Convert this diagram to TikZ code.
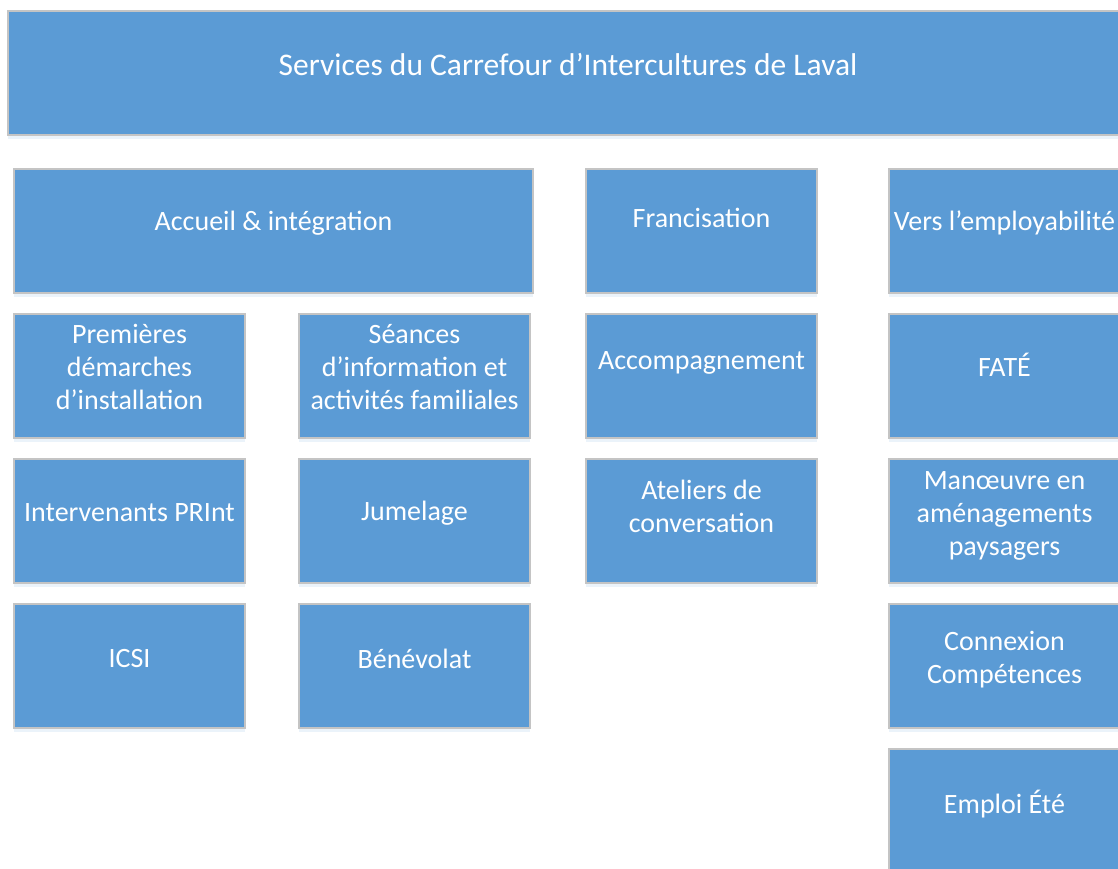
\documentclass[tikz,border=0pt]{standalone}
\usepackage{fontspec}
\setmainfont{Carlito}
\usetikzlibrary{positioning, shadows}

\definecolor{svcblue}{HTML}{5B9BD5}
\definecolor{svcedge}{HTML}{C4C4C4}

\begin{document}
\begin{tikzpicture}[
    x=1pt, y=1pt,
    box/.style={
      draw=svcedge, line width=1.2pt, fill=svcblue, outer sep=0pt,
      minimum width=231pt, minimum height=124pt,
      drop shadow={shadow xshift=0pt, shadow yshift=-4pt, opacity=0.12, fill=svcblue}
    },
    txt/.style={
      align=center, text=white, font=\fontsize{28}{33}\selectfont, yshift=9pt
    },
  ]
    \useasboundingbox (0,0) rectangle (1118,869);

    % Title
    \node [box, minimum width=1120pt, label={[txt, font=\fontsize{31.5}{36}\selectfont, yshift=-1pt]center:Services du Carrefour d’Intercultures de Laval}] (title) at (568,796) {};

    % Column heads
    \node [box, minimum width=519pt, label={[txt, yshift=-1pt]center:Accueil \& intégration}] (accueil) at (273.5,638) {};
    \node [box, label={[txt, yshift=4pt]center:Francisation}] (francisation) at (701.5,638) {};
    \node [box, label={[txt, yshift=-1pt]center:Vers l’employabilité}] (employabilite) at (1004.5,638) {};

    % Accueil & integration
    \node [box, below=21pt of accueil.south west, anchor=north west, label={[txt]center:Premières\\démarches\\d’installation}] (premieres) {};
    \node [box, below=21pt of premieres, label={[txt, yshift=-1pt]center:Intervenants PRInt}] (print) {};
    \node [box, below=21pt of print, label={[txt, yshift=-2pt]center:ICSI}] (icsi) {};
    \node [box, right=54pt of premieres, label={[txt]center:Séances\\d’information et\\activités familiales}] (seances) {};
    \node [box, below=21pt of seances, label={[txt, yshift=-1pt]center:Jumelage}] (jumelage) {};
    \node [box, below=21pt of jumelage, label={[txt, yshift=-2pt]center:Bénévolat}] (benevolat) {};

    % Francisation
    \node [box, below=21pt of francisation, label={[txt, yshift=4pt]center:Accompagnement}] (accompagnement) {};
    \node [box, below=21pt of accompagnement, label={[txt, yshift=6pt]center:Ateliers de\\conversation}] (ateliers) {};

    % Vers l'employabilite
    \node [box, below=21pt of employabilite, label={[txt, yshift=2pt]center:FATÉ}] (fate) {};
    \node [box, below=21pt of fate, label={[txt, yshift=-4pt]center:Manœuvre en\\aménagements\\paysagers}] (manoeuvre) {};
    \node [box, below=21pt of manoeuvre, label={[txt, yshift=-3pt]center:Connexion\\Compétences}] (connexion) {};
    \node [box, below=21pt of connexion, label={[txt, yshift=-2pt]center:Emploi Été}] (emploi) {};

  \end{tikzpicture}
\end{document}
